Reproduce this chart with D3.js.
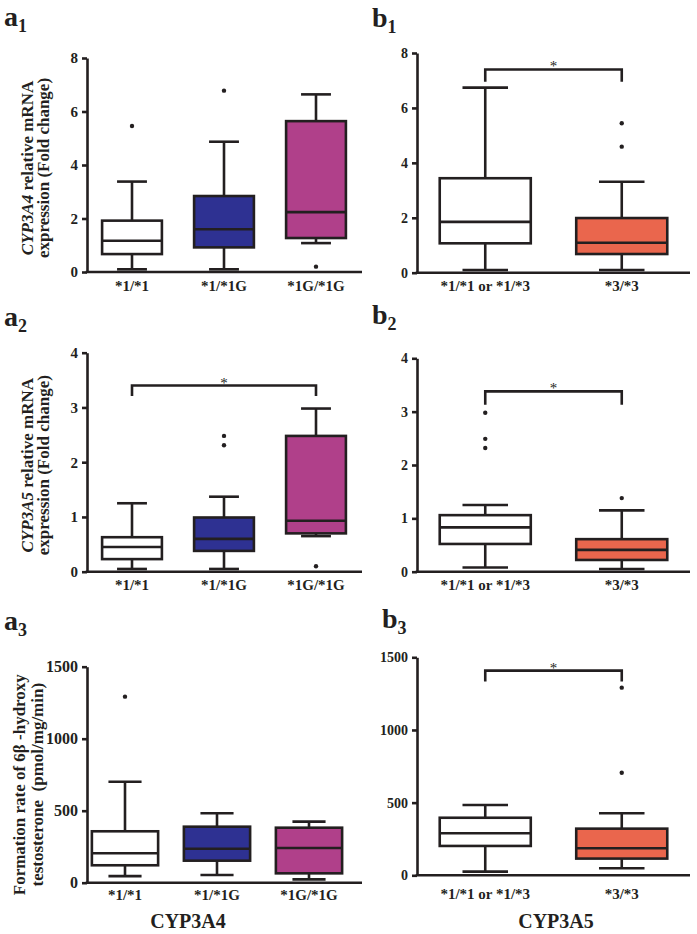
<!DOCTYPE html>
<html>
<head>
<meta charset="utf-8">
<script src="https://cdn.jsdelivr.net/npm/d3@7/dist/d3.min.js"></script>
<style>
  html, body { margin: 0; padding: 0; background: #fff; }
  svg { display: block; }
  text { font-family: "Liberation Serif", "Times New Roman", serif; font-weight: bold; fill: #231f20; }
</style>
</head>
<body>
<script>
// ---------- data ----------
const genoA = ["*1/*1", "*1/*1G", "*1G/*1G"];
const genoB = ["*1/*1 or *1/*3", "*3/*3"];
const fillA = ["#ffffff", "#2e3192", "#b0408a"];
const fillB = ["#ffffff", "#ea664d"];

const ticks8 = [0, 2, 4, 6, 8];
const ticks4 = [0, 1, 2, 3, 4];
const ticks1500 = [0, 500, 1000, 1500];

// a1: CYP3A4 mRNA by CYP3A4 genotype
const a1Low = [0.1, 0.1, 1.08];
const a1Q1 = [0.67, 0.92, 1.27];
const a1Med = [1.17, 1.6, 2.24];
const a1Q3 = [1.92, 2.84, 5.64];
const a1High = [3.38, 4.87, 6.64];
const a1Out = [[5.46], [6.78], [0.2]];

// b1: CYP3A4 mRNA by CYP3A5 genotype
const b1Low = [0.1, 0.1];
const b1Q1 = [1.07, 0.68];
const b1Med = [1.85, 1.09];
const b1Q3 = [3.44, 1.99];
const b1High = [6.74, 3.31];
const b1Out = [[], [5.44, 4.59]];
const b1Sig = [7.4, 6.95];

// a2: CYP3A5 mRNA by CYP3A4 genotype
const a2Low = [0.05, 0.05, 0.65];
const a2Q1 = [0.23, 0.38, 0.70];
const a2Med = [0.45, 0.6, 0.93];
const a2Q3 = [0.63, 0.99, 2.48];
const a2High = [1.25, 1.37, 2.98];
const a2Out = [[], [2.48, 2.31], [0.1]];
const a2Sig = [3.4, 3.21];

// b2: CYP3A5 mRNA by CYP3A5 genotype
const b2Low = [0.08, 0.05];
const b2Q1 = [0.52, 0.22];
const b2Med = [0.83, 0.41];
const b2Q3 = [1.06, 0.61];
const b2High = [1.25, 1.15];
const b2Out = [[2.98, 2.49, 2.32], [1.38]];
const b2Sig = [3.38, 3.13];

// a3: 6beta-hydroxytestosterone formation by CYP3A4 genotype
const a3Low = [46, 53, 23];
const a3Q1 = [121, 153, 65];
const a3Med = [204, 236, 241];
const a3Q3 = [357, 389, 382];
const a3High = [701, 482, 424];
const a3Out = [[1292], [], []];

// b3: 6beta-hydroxytestosterone formation by CYP3A5 genotype
const b3Low = [25, 48];
const b3Q1 = [202, 115];
const b3Med = [289, 186];
const b3Q3 = [396, 321];
const b3High = [484, 427];
const b3Out = [[], [1291, 706]];
const b3Sig = [1408, 1333];

// ---------- drawing ----------
const W = 697, H = 934;
const INK = "#231f20";
const SW = 2.6;

const svg = d3.select("body").append("svg").attr("width", W).attr("height", H);

function panelLetter(letter, sub, x, y) {
  const t = svg.append("text").attr("x", x).attr("y", y).style("font-size", "28px");
  t.append("tspan").text(letter);
  t.append("tspan").attr("dy", 6).style("font-size", "18px").text(sub);
}

function drawPanel(c) {
  const g = svg.append("g");
  const y = d3.scaleLinear().domain([0, c.yMax]).range([c.yBottom, c.yTop]);
  const x = d3.scaleBand().domain(c.cats).range(c.xRange)
    .paddingInner(c.pad).paddingOuter(c.pad / 2);
  const bw = x.bandwidth();
  const cx = d => x(d) + bw / 2;

  // y axis
  const ya = g.append("g").attr("transform", `translate(${c.axisX},0)`)
    .call(d3.axisLeft(y).tickValues(c.ticks).tickSize(5).tickSizeOuter(0).tickPadding(4).tickFormat(d3.format("d")));
  ya.selectAll("path, line").attr("stroke", INK).attr("stroke-width", SW);
  ya.selectAll("text").style("font-size", c.tickFs + "px")
    .style("font-family", "'Liberation Serif', serif").style("font-weight", "bold").attr("fill", INK);

  // x baseline
  g.append("line").attr("x1", c.axisX - SW / 2).attr("x2", c.axisEnd)
    .attr("y1", y(0)).attr("y2", y(0)).attr("stroke", INK).attr("stroke-width", SW);

  // x category labels
  const xa = g.append("g").attr("transform", `translate(0,${y(0)})`)
    .call(d3.axisBottom(x).tickSize(0).tickPadding(c.xPad));
  xa.select(".domain").remove();
  xa.selectAll("text").style("font-size", "15px")
    .style("font-family", "'Liberation Serif', serif").style("font-weight", "bold").attr("fill", INK);

  // boxes
  c.cats.forEach((cat, i) => {
    const mx = cx(cat);
    const bg = g.append("g");
    bg.append("line").attr("x1", mx).attr("x2", mx)
      .attr("y1", y(c.low[i])).attr("y2", y(c.high[i]))
      .attr("stroke", INK).attr("stroke-width", SW);
    [c.low[i], c.high[i]].forEach(v => {
      bg.append("line").attr("x1", mx - bw / 4).attr("x2", mx + bw / 4)
        .attr("y1", y(v)).attr("y2", y(v)).attr("stroke", INK).attr("stroke-width", SW);
    });
    bg.append("rect").attr("x", x(cat)).attr("width", bw)
      .attr("y", y(c.q3[i])).attr("height", y(c.q1[i]) - y(c.q3[i]))
      .attr("fill", c.fills[i]).attr("stroke", INK).attr("stroke-width", SW);
    bg.append("line").attr("x1", x(cat)).attr("x2", x(cat) + bw)
      .attr("y1", y(c.med[i])).attr("y2", y(c.med[i]))
      .attr("stroke", INK).attr("stroke-width", SW);
    bg.selectAll("circle.o").data(c.out[i]).enter().append("circle")
      .attr("cx", mx).attr("cy", d => y(d)).attr("r", 2.2).attr("fill", INK);
  });

  // significance bracket
  if (c.sig) {
    const xa1 = cx(c.cats[c.sigPair[0]]), xa2 = cx(c.cats[c.sigPair[1]]);
    g.append("path")
      .attr("d", `M${xa1},${y(c.sig[1])}V${y(c.sig[0])}H${xa2}V${y(c.sig[1])}`)
      .attr("fill", "none").attr("stroke", INK).attr("stroke-width", SW);
    g.append("text").attr("x", (xa1 + xa2) / 2).attr("y", y(c.sig[0]) + 2)
      .attr("text-anchor", "middle").style("font-size", "15px").style("font-weight", "normal")
      .text("*");
  }

  // y label
  if (c.ylab) {
    const midY = (y(0) + y(c.yMax)) / 2 + c.ylabShift;
    c.ylab.forEach((parts, k) => {
      const t = g.append("text")
        .attr("transform", `translate(${c.ylabX[k]},${midY}) rotate(-90)`)
        .attr("text-anchor", "middle").style("font-size", "17px");
      parts.forEach(p => {
        t.append("tspan").style("font-style", p.it ? "italic" : "normal").text(p.t);
      });
    });
  }
}

const cfgA = { cats: genoA, fills: fillA, axisX: 87, axisEnd: 362, xRange: [86, 362], pad: 0.35 };
const cfgB = { cats: genoB, fills: fillB, axisX: 417, axisEnd: 690, xRange: [417, 690], pad: 0.333, tickFs: 14 };

// a1
drawPanel(Object.assign({}, cfgA, {
  yMax: 8, yBottom: 272, yTop: 58, ticks: ticks8, tickFs: 15, xPad: 8,
  low: a1Low, q1: a1Q1, med: a1Med, q3: a1Q3, high: a1High, out: a1Out,
  ylab: [[{ t: "CYP3A4", it: true }, { t: " relative mRNA" }], [{ t: "expression (Fold change)" }]],
  ylabX: [33, 49], ylabShift: 3
}));
// b1
drawPanel(Object.assign({}, cfgB, {
  yMax: 8, yBottom: 272.7, yTop: 53, ticks: ticks8, xPad: 8,
  low: b1Low, q1: b1Q1, med: b1Med, q3: b1Q3, high: b1High, out: b1Out,
  sig: b1Sig, sigPair: [0, 1]
}));
// a2
drawPanel(Object.assign({}, cfgA, {
  yMax: 4, yBottom: 571.7, yTop: 352.7, ticks: ticks4, tickFs: 15, xPad: 8,
  low: a2Low, q1: a2Q1, med: a2Med, q3: a2Q3, high: a2High, out: a2Out,
  sig: a2Sig, sigPair: [0, 2],
  ylab: [[{ t: "CYP3A5", it: true }, { t: " relative mRNA" }], [{ t: "expression (Fold change)" }]],
  ylabX: [33, 49], ylabShift: 3
}));
// b2
drawPanel(Object.assign({}, cfgB, {
  yMax: 4, yBottom: 571.7, yTop: 358.3, ticks: ticks4, xPad: 8,
  low: b2Low, q1: b2Q1, med: b2Med, q3: b2Q3, high: b2High, out: b2Out,
  sig: b2Sig, sigPair: [0, 1]
}));
// a3
drawPanel(Object.assign({}, cfgA, {
  xRange: [79, 355], pad: 0.28,
  yMax: 1500, yBottom: 882.7, yTop: 666.7, ticks: ticks1500, tickFs: 16, xPad: 7,
  low: a3Low, q1: a3Q1, med: a3Med, q3: a3Q3, high: a3High, out: a3Out,
  ylab: [[{ t: "Formation rate of 6\u03B2 -hydroxy" }], [{ t: "testosterone\u00A0 (pmol/mg/min)" }]],
  ylabX: [25, 43], ylabShift: 10
}));
// b3
drawPanel(Object.assign({}, cfgB, {
  yMax: 1500, yBottom: 875.3, yTop: 657.3, ticks: ticks1500, xPad: 13,
  low: b3Low, q1: b3Q1, med: b3Med, q3: b3Q3, high: b3High, out: b3Out,
  sig: b3Sig, sigPair: [0, 1]
}));

// panel letters
panelLetter("a", "1", 4, 26);
panelLetter("b", "1", 372, 27);
panelLetter("a", "2", 4, 326);
panelLetter("b", "2", 372, 324);
panelLetter("a", "3", 4, 630);
panelLetter("b", "3", 382, 628);

// group titles
svg.append("text").attr("x", 188).attr("y", 928).attr("text-anchor", "middle")
  .style("font-size", "20px").text("CYP3A4");
svg.append("text").attr("x", 556).attr("y", 928).attr("text-anchor", "middle")
  .style("font-size", "20px").text("CYP3A5");
</script>
</body>
</html>
